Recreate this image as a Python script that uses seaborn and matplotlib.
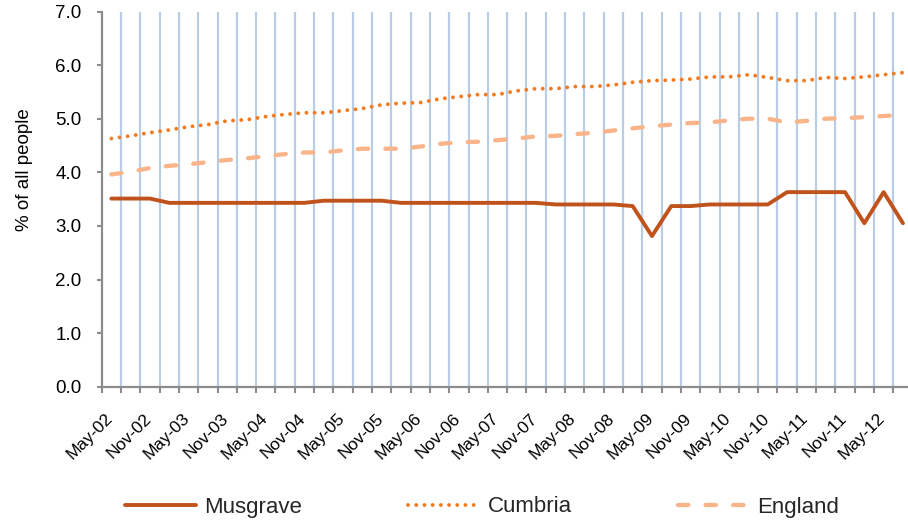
import matplotlib
matplotlib.use("Agg")
import matplotlib.pyplot as plt
import matplotlib.transforms as mtransforms
import numpy as np
import pandas as pd
import seaborn as sns
from matplotlib.ticker import FixedLocator, FixedFormatter

quarters = ["May-02", "Aug-02", "Nov-02", "Feb-03", "May-03", "Aug-03", "Nov-03",
            "Feb-04", "May-04", "Aug-04", "Nov-04", "Feb-05", "May-05", "Aug-05",
            "Nov-05", "Feb-06", "May-06", "Aug-06", "Nov-06", "Feb-07", "May-07",
            "Aug-07", "Nov-07", "Feb-08", "May-08", "Aug-08", "Nov-08", "Feb-09",
            "May-09", "Aug-09", "Nov-09", "Feb-10", "May-10", "Aug-10", "Nov-10",
            "Feb-11", "May-11", "Aug-11", "Nov-11", "Feb-12", "May-12", "Aug-12"]

musgrave = [3.51, 3.51, 3.51, 3.43, 3.43, 3.43, 3.43, 3.43, 3.43, 3.43, 3.43,
            3.47, 3.47, 3.47, 3.47, 3.43, 3.43, 3.43, 3.43, 3.43, 3.43, 3.43,
            3.43, 3.40, 3.40, 3.40, 3.40, 3.37, 2.81, 3.37, 3.37, 3.40, 3.40,
            3.40, 3.40, 3.63, 3.63, 3.63, 3.63, 3.05, 3.63, 3.05]

cumbria = [4.63, 4.68, 4.74, 4.79, 4.85, 4.89, 4.96, 4.98, 5.04, 5.08, 5.11,
           5.11, 5.15, 5.19, 5.26, 5.29, 5.30, 5.37, 5.41, 5.45, 5.45,
           5.52, 5.56, 5.56, 5.60, 5.60, 5.63, 5.68, 5.71, 5.72, 5.74, 5.78,
           5.78, 5.82, 5.77, 5.71, 5.71, 5.77, 5.75, 5.78, 5.82, 5.86]

england = [3.96, 4.01, 4.08, 4.12, 4.15, 4.19, 4.23, 4.26, 4.30, 4.34, 4.37,
           4.37, 4.41, 4.44, 4.44, 4.44, 4.48, 4.53, 4.56, 4.57, 4.60,
           4.63, 4.67, 4.68, 4.71, 4.74, 4.78, 4.82, 4.86, 4.89, 4.92, 4.93,
           4.97, 5.00, 5.00, 4.93, 4.96, 5.00, 5.01, 5.03, 5.05, 5.07]

series_names = ["Musgrave", "Cumbria", "England"]
y_ticks = [0, 1, 2, 3, 4, 5, 6, 7]

sns.set_theme(style="white")
plt.rcParams["font.family"] = ["Liberation Sans", "DejaVu Sans"]

df = pd.DataFrame({"idx": np.arange(len(quarters)), "quarter": quarters,
                   "Musgrave": musgrave, "Cumbria": cumbria, "England": england})

fig = plt.figure(figsize=(9.08, 5.25), dpi=100)
ax = fig.add_axes([101.7 / 908, 1 - 386.7 / 525, (912.6 - 101.7) / 908, (386.7 - 11.5) / 525])

grid_col = "#B9CDE5"
axis_col = "#8C8C8C"

n = len(quarters)
bounds = np.arange(n + 1) - 0.5
for b in bounds[1:-1]:
    ax.axvline(b, color=grid_col, lw=1.6, zorder=0)

sns.lineplot(data=df, x="idx", y="Musgrave", ax=ax, color="#C0531C", lw=2.8,
             label=series_names[0], solid_joinstyle="round", solid_capstyle="round", zorder=3)
sns.lineplot(data=df, x="idx", y="Cumbria", ax=ax, color="#F47A20", lw=2.8,
             linestyle=(0, (0.01, 2.1)), dash_capstyle="round",
             label=series_names[1], zorder=3)
sns.lineplot(data=df, x="idx", y="England", ax=ax, color="#FAB48A", lw=3.1,
             linestyle=(0, (2.4, 4.0)), dash_capstyle="round",
             label=series_names[2], zorder=2)

ax.set_xlim(-0.5, n - 0.5)
ax.set_ylim(0, 7)
ax.set_yticks(y_ticks)
ax.set_yticklabels([f"{v:.1f}" for v in y_ticks])
ax.set_ylabel("% of all people", fontsize=13.5, color="#000000")
ax.yaxis.set_label_coords((33 - 101.7) / 810.9, (386.7 - 170) / 375.2)
ax.set_xlabel("")

label_pos = list(range(0, n, 2))
ax.xaxis.set_major_locator(FixedLocator(label_pos))
ax.xaxis.set_major_formatter(FixedFormatter([quarters[i] for i in label_pos]))
ax.xaxis.set_minor_locator(FixedLocator(bounds))
ax.tick_params(axis="x", which="major", length=0, pad=21, labelsize=12.5, labelcolor="#000000")
ax.tick_params(axis="x", which="minor", length=4.3, width=1.5, color=axis_col, direction="out")
ax.tick_params(axis="y", which="major", length=3.6, width=1.5, color=axis_col, direction="out",
               labelsize=13.5, labelcolor="#000000", pad=10.9)
ax.xaxis.set_ticks_position("bottom")
ax.yaxis.set_ticks_position("left")
offset = mtransforms.ScaledTranslation(-1 / 100, 0, fig.dpi_scale_trans)
for lbl in ax.get_xticklabels():
    lbl.set_rotation(45)
    lbl.set_ha("right")
    lbl.set_va("center")
    lbl.set_rotation_mode("anchor")
    lbl.set_transform(lbl.get_transform() + offset)

for s in ["top", "right"]:
    ax.spines[s].set_visible(False)
for s in ["left", "bottom"]:
    ax.spines[s].set_color(axis_col)
    ax.spines[s].set_linewidth(1.6)
ax.grid(False)

handles, labels = ax.get_legend_handles_labels()
ax.legend_.remove()
fig.legend(handles, labels, loc="center", bbox_to_anchor=(482 / 908, 1 - 507 / 525),
           ncol=3, frameon=False, fontsize=16, handlelength=3.2, handletextpad=0.35,
           columnspacing=4.8)

fig.savefig("out.png", dpi=100)
